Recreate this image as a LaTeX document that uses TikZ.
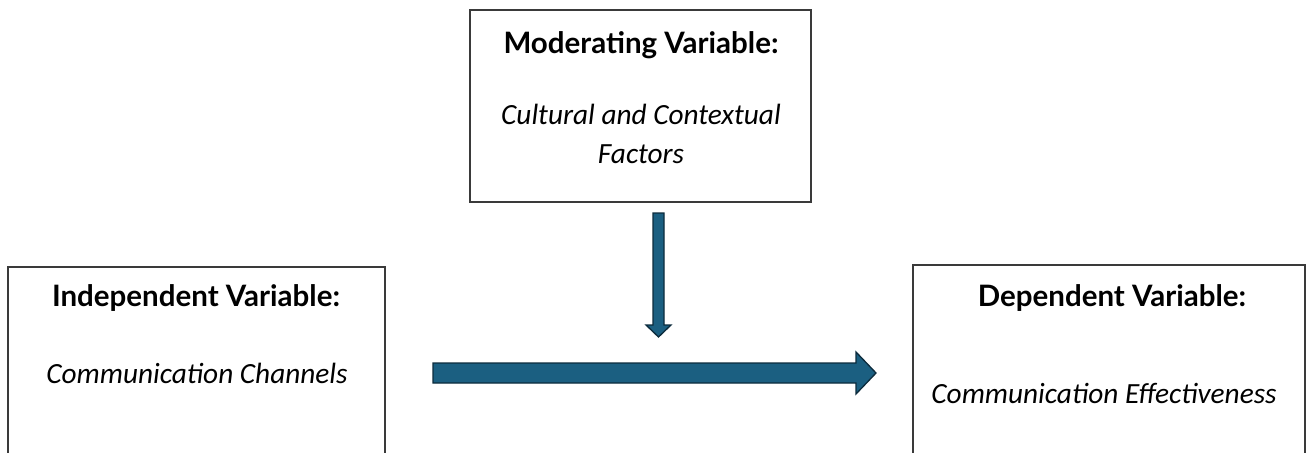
\documentclass[tikz,border=0pt]{standalone}
\usepackage{fontspec}
\setmainfont{Carlito}
\newfontfamily\headfont{Lato}
\usetikzlibrary{calc}
\definecolor{arrowfill}{HTML}{1B5F81}
\definecolor{arrowedge}{HTML}{0C2B3C}
\definecolor{boxedge}{HTML}{3A3A3A}
\tikzset{
  varbox/.style={draw=boxedge, line width=1.4pt, fill=white},
  heading/.style={font=\headfont\bfseries\fontsize{29.5}{34}\selectfont, inner sep=0pt},
  factor/.style={font=\itshape\fontsize{29.3}{39}\selectfont, inner sep=0pt, align=center},
  flowarrow/.style={fill=arrowfill, draw=arrowedge, line width=1.3pt, line join=miter}
}
\begin{document}
\begin{tikzpicture}[x=1pt,y=-1pt]
\useasboundingbox (0,0) rectangle (1313,452);

% the three variable boxes
\draw[varbox] (470,10) rectangle (811,202);
\node[inner sep=0pt] (modbox) at (640.5,106) {};
\draw[varbox] (8,267) rectangle (385,470);
\node[inner sep=0pt] (indbox) at (196.5,360) {};
\draw[varbox] (913,265) rectangle (1305,470);
\node[inner sep=0pt] (depbox) at (1109,360) {};

% texts
\node[heading] (modhead) at (641,45) {Moderating Variable:};
\node[factor] (modtext) at (641,134) {Cultural and Contextual\\Factors};
\node[heading] (indhead) at (196,298) {Independent Variable:};
\node[factor] (indtext) at (197,373) {Communication Channels};
\node[heading] (dephead) at (1112,298) {Dependent Variable:};
\node[factor] (deptext) at (1104,393) {Communication Effectiveness};

% main effect arrow
\coordinate (hstart) at (433,373);
\coordinate (htip) at (876,373);
\draw[flowarrow]
  ($(hstart)+(0,-10)$) -- ($(htip)+(-20,-10)$) -- ($(htip)+(-20,-21)$) -- (htip)
  -- ($(htip)+(-20,21)$) -- ($(htip)+(-20,10)$) -- ($(hstart)+(0,10)$) -- cycle;

% moderating arrow
\coordinate (vstart) at (658.5,213);
\coordinate (vtip) at (658.5,337);
\draw[flowarrow]
  ($(vstart)+(-5.5,0)$) -- ($(vtip)+(-5.5,-12)$) -- ($(vtip)+(-12.5,-12)$) -- (vtip)
  -- ($(vtip)+(12.5,-12)$) -- ($(vtip)+(5.5,-12)$) -- ($(vstart)+(5.5,0)$) -- cycle;
\end{tikzpicture}
\end{document}
